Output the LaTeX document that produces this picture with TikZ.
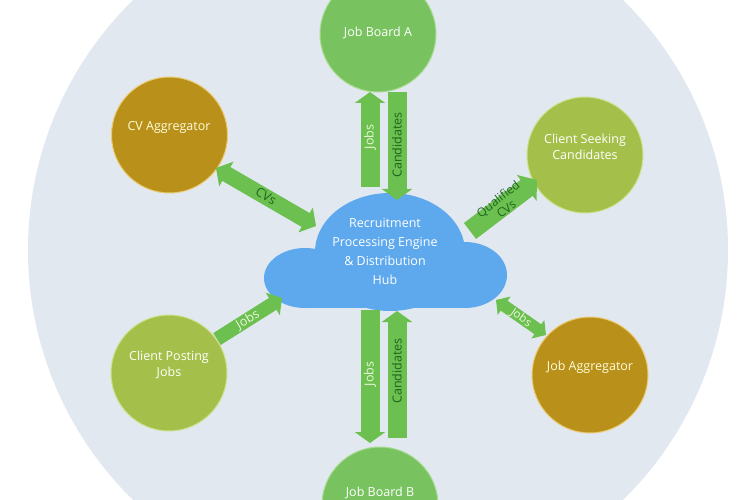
\documentclass[tikz,border=0pt]{standalone}
\usepackage{fontspec}
\setmainfont{Open Sans}
\usetikzlibrary{arrows.meta}
\definecolor{bgc}{HTML}{E2E8F0}
\definecolor{boardc}{HTML}{78C35F}
\definecolor{boardl}{HTML}{A9DC92}
\definecolor{ochrec}{HTML}{B8901A}
\definecolor{ochrel}{HTML}{EACB73}
\definecolor{olivec}{HTML}{A5C04A}
\definecolor{olivel}{HTML}{CFE08E}
\definecolor{cloudc}{HTML}{5EA9EE}
\definecolor{arrowc}{HTML}{6CC04F}
\definecolor{darktxt}{HTML}{1E641E}
\definecolor{lighttxt}{HTML}{ECF7DE}
\tikzset{
  disc/.style={circle, minimum size=116pt, inner sep=0pt, line width=1pt},
  board/.style={disc, fill=boardc, draw=boardl},
  ochre/.style={disc, fill=ochrec, draw=ochrel},
  olive/.style={disc, fill=olivec, draw=olivel},
  ntxt/.style={text=white, align=center, font=\fontsize{12.5}{16}\selectfont, inner sep=0pt},
  alab/.style={font=\fontsize{12.5}{14}\selectfont, inner sep=0pt, align=center},
  dlab/.style={alab, text=darktxt},
  llab/.style={alab, text=lighttxt},
  blk/.style={draw=arrowc, line width=#1},
  blk/.default=18pt,
}
\begin{document}
\begin{tikzpicture}[x=1pt,y=-1pt]
\useasboundingbox (0,0) rectangle (750,500);
\clip (0,0) rectangle (750,500);
\fill[white] (0,0) rectangle (750,500);
\fill[bgc] (378,250) circle (350);

% outer discs
\node[board] (jba) at (378,34) {};
\node[ntxt] (jbat) at (378,33) {Job Board A};
\node[board] (jbb) at (380,505) {};
\node[ntxt] (jbbt) at (380,493) {Job Board B};
\node[ochre] (cva) at (169.5,135) {};
\node[ntxt, text=white!85!yellow] (cvat) at (169,127) {CV Aggregator};
\node[ochre] (jag) at (590,375) {};
\node[ntxt, text=white!85!yellow] (jagt) at (590,367) {Job Aggregator};
\node[olive] (csc) at (585,155) {};
\node[ntxt] (csct) at (585,147) {Client Seeking\\Candidates};
\node[olive] (cpj) at (169,373) {};
\node[ntxt] (cpjt) at (169,365) {Client Posting\\Jobs};

% cloud
\fill[cloudc] (390,252) ellipse [x radius=75, y radius=59];
\fill[cloudc] (305,278) ellipse [x radius=41, y radius=30];
\fill[cloudc] (465,275) ellipse [x radius=42, y radius=33];
\fill[cloudc] (305,262) rectangle (466,308);
\node[text=white, align=center, font=\fontsize{12.5}{19}\selectfont, inner sep=0pt] (hub) at (385,251)
  {Recruitment\\Processing Engine\\\& Distribution\\Hub};

% arrow end points
\coordinate (a1s) at (370,187); \coordinate (a1e) at (370,92);
\coordinate (a2s) at (397,92);  \coordinate (a2e) at (397,200);
\coordinate (b1s) at (370,310); \coordinate (b1e) at (370,443);
\coordinate (b2s) at (397,438); \coordinate (b2e) at (397,311);
\coordinate (cvs) at (216,168); \coordinate (cve) at (316,226);
\coordinate (qs) at (470,231);  \coordinate (qe) at (537,180);
\coordinate (ps) at (217,339);  \coordinate (pe) at (282,298);
\coordinate (js) at (496,300);  \coordinate (je) at (546,335);

\draw[blk=19pt, -{Triangle[length=11pt,width=30pt]}] (a1s) -- (a1e);
\draw[blk=19pt, -{Triangle[length=11pt,width=30pt]}] (a2s) -- (a2e);
\draw[blk=19pt, -{Triangle[length=11pt,width=30pt]}] (b1s) -- (b1e);
\draw[blk=19pt, -{Triangle[length=11pt,width=30pt]}] (b2s) -- (b2e);
\draw[blk=16pt, {Triangle[length=12pt,width=28pt]}-{Triangle[length=12pt,width=28pt]}] (cvs) -- (cve);
\draw[blk=20pt, -{Triangle[length=13pt,width=32pt]}] (qs) -- (qe);
\draw[blk=14pt, -{Triangle[length=11pt,width=26pt]}] (ps) -- (pe);
\draw[blk=12pt, {Triangle[length=10pt,width=22pt]}-{Triangle[length=10pt,width=22pt]}] (js) -- (je);

% arrow labels
\node[llab, rotate=90] (l1) at (370,137) {Jobs};
\node[dlab, rotate=90] (l2) at (397,145) {Candidates};
\node[llab, rotate=90] (l3) at (370,374) {Jobs};
\node[dlab, rotate=90] (l4) at (397,371) {Candidates};
\node[dlab, rotate=-30] (l5) at (266,196) {CVs};
\node[dlab, rotate=38, font=\fontsize{12}{13}\selectfont] (l6) at (502,204) {Qualified\\CVs};
\node[llab, rotate=30] (l7) at (248,320) {Jobs};
\node[llab, rotate=-35, font=\fontsize{11.5}{13}\selectfont] (l8) at (521,318) {Jobs};
\end{tikzpicture}
\end{document}
